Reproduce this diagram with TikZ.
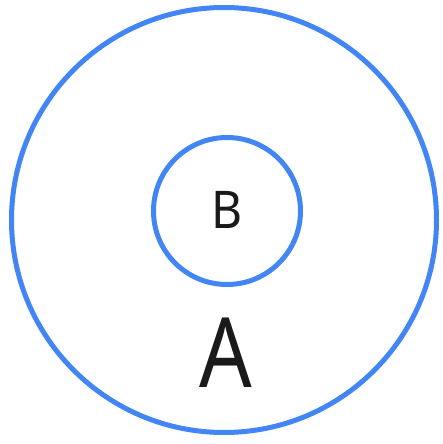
\documentclass[tikz,border=0pt]{standalone}
\usepackage{fontspec}
\setmainfont{Noto Sans}
\definecolor{ringblue}{HTML}{4285F4}
\definecolor{ink}{HTML}{1A1A1A}
\begin{document}
\begin{tikzpicture}[x=1pt,y=-1pt,
  ring/.style={draw=ringblue,line width=5pt,circle,inner sep=0pt},
  lbl/.style={text=ink,inner sep=0pt,anchor=center}]
\useasboundingbox (0,0) rectangle (442,444);
\node[ring,minimum size=425pt] (outer) at (224,220) {};
\node[ring,minimum size=147pt] (inner) at (227,211) {};
\node[lbl,font=\fontsize{52}{52}\selectfont] (b) at (227,210) {\scalebox{0.92}[1]{B}};
\node[lbl,font=\fontsize{97}{97}\selectfont] (a) at (226,353) {\scalebox{0.85}[1]{A}};
\end{tikzpicture}
\end{document}
